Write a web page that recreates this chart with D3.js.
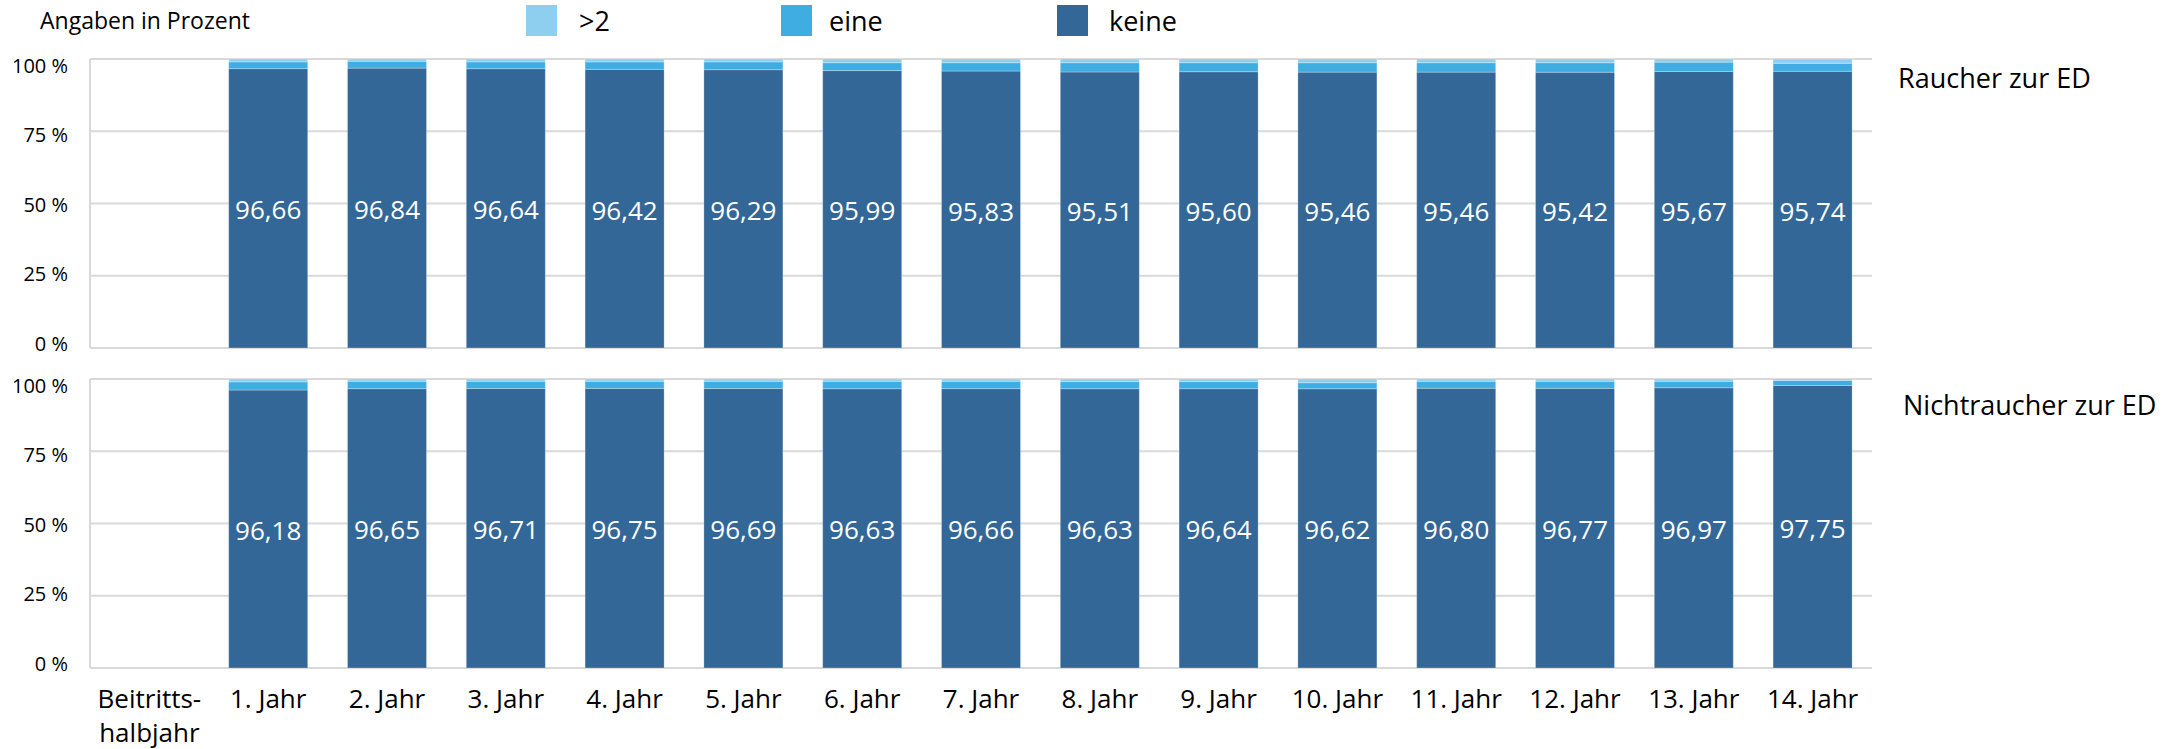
<!DOCTYPE html>
<html>
<head>
<meta charset="utf-8">
<script src="https://cdn.jsdelivr.net/npm/d3@7"></script>
<style>
html,body{margin:0;padding:0;background:#fff;}
svg{display:block;font-family:"Open Sans",sans-serif;}
</style>
</head>
<body>
<svg id="chart" width="2176" height="749"></svg>
<script>
// ---- data ----
const categories = ["Beitritts-\nhalbjahr","1. Jahr","2. Jahr","3. Jahr","4. Jahr","5. Jahr","6. Jahr","7. Jahr","8. Jahr","9. Jahr","10. Jahr","11. Jahr","12. Jahr","13. Jahr","14. Jahr"];
const seriesNames = ["keine","eine",">2"];
const raucherKeine = [null,96.66,96.84,96.64,96.42,96.29,95.99,95.83,95.51,95.60,95.46,95.46,95.42,95.67,95.74];
const raucherEine  = [null,2.34,2.36,2.36,2.58,2.71,2.71,2.87,3.19,3.10,3.24,3.24,3.28,3.23,2.76];
const raucherMehr  = [null,1.00,0.80,1.00,1.00,1.00,1.30,1.30,1.30,1.30,1.30,1.30,1.30,1.10,1.50];
const nichtKeine = [null,96.18,96.65,96.71,96.75,96.69,96.63,96.66,96.63,96.64,96.62,96.80,96.77,96.97,97.75];
const nichtEine  = [null,2.82,2.55,2.49,2.45,2.51,2.57,2.54,2.47,2.46,2.08,2.40,2.43,2.23,1.75];
const nichtMehr  = [null,1.00,0.80,0.80,0.80,0.80,0.80,0.80,0.90,0.90,1.30,0.80,0.80,0.80,0.50];
const yTicks = [0,25,50,75,100];
const panelTitles = ["Raucher zur ED","Nichtraucher zur ED"];
const legendTitle = "Angaben in Prozent";

const colors = {"keine":"#336797","eine":"#40ADE2",">2":"#8ECFEF"};

const svg = d3.select("#chart");
const x = d3.scaleBand().domain(categories).range([90,1872]).paddingInner(0.335).paddingOuter(0.1675);

const panels = [
  {keine:raucherKeine, eine:raucherEine, mehr:raucherMehr, top:59, bottom:348, title:panelTitles[0], tx:1898, ty:88},
  {keine:nichtKeine, eine:nichtEine, mehr:nichtMehr, top:379, bottom:668, title:panelTitles[1], tx:1903, ty:415}
];

const fmt = v => d3.format(".2f")(v).replace(".", ",");

panels.forEach(p => {
  const y = d3.scaleLinear().domain([0,100]).range([p.bottom,p.top]);
  const yLab = d3.scaleLinear().domain([0,100]).range([p.bottom-5,p.top+6]);
  const g = svg.append("g");
  // gridlines
  g.selectAll("line.grid").data(yTicks).join("line")
    .attr("x1",90).attr("x2",1872)
    .attr("y1",d=>y(d)).attr("y2",d=>y(d))
    .attr("stroke","#d9d9d9").attr("stroke-width",2);
  g.append("line").attr("x1",90).attr("x2",90).attr("y1",y(0)).attr("y2",y(100))
    .attr("stroke","#d9d9d9").attr("stroke-width",2);
  // tick labels
  g.selectAll("text.tick").data(yTicks).join("text")
    .attr("x",68).attr("y",d=>yLab(d))
    .attr("text-anchor","end").attr("dominant-baseline","central")
    .attr("font-size",20).attr("fill","#000")
    .text(d=>d+" %");
  // stacked data
  const rows = categories.map((c,i)=>({cat:c, "keine":p.keine[i], "eine":p.eine[i], ">2":p.mehr[i]}))
                         .filter(r=>r.keine!=null);
  const stack = d3.stack().keys(seriesNames)(rows);
  stack.forEach(layer=>{
    g.selectAll(null).data(layer).join("rect")
      .attr("x",d=>x(d.data.cat)).attr("width",x.bandwidth())
      .attr("y",d=>y(d[1])).attr("height",d=>y(d[0])-y(d[1]))
      .attr("fill",colors[layer.key])
      .attr("stroke","rgba(255,255,255,0.25)").attr("stroke-width",1);
  });
  // value labels
  g.selectAll("text.val").data(rows).join("text")
    .attr("x",d=>x(d.cat)+x.bandwidth()/2)
    .attr("y",d=>(y(0)+y(d.keine))/2+1)
    .attr("text-anchor","middle").attr("dominant-baseline","central")
    .attr("font-size",26).attr("fill","#fff")
    .text(d=>fmt(d.keine));
  // panel title
  svg.append("text").attr("x",p.tx).attr("y",p.ty).attr("font-size",27).attr("fill","#000").text(p.title);
});

// x axis labels
const xl = svg.append("g");
categories.forEach(c=>{
  const lines = c.split("\n");
  const t = xl.append("text").attr("text-anchor","middle").attr("font-size",26).attr("fill","#000");
  lines.forEach((ln,i)=>{
    t.append("tspan").attr("x",x(c)+x.bandwidth()/2).attr("y",708+i*34).text(ln);
  });
});

// legend
svg.append("text").attr("x",40).attr("y",29).attr("font-size",23).attr("fill","#000").text(legendTitle);
const legendItems = [{k:">2", sx:526, tx:579},{k:"eine", sx:781, tx:829},{k:"keine", sx:1057, tx:1109}];
legendItems.forEach(l=>{
  svg.append("rect").attr("x",l.sx).attr("y",5).attr("width",31).attr("height",31).attr("fill",colors[l.k]);
  svg.append("text").attr("x",l.tx).attr("y",31).attr("font-size",27).attr("fill","#000").text(l.k);
});
</script>
</body>
</html>
